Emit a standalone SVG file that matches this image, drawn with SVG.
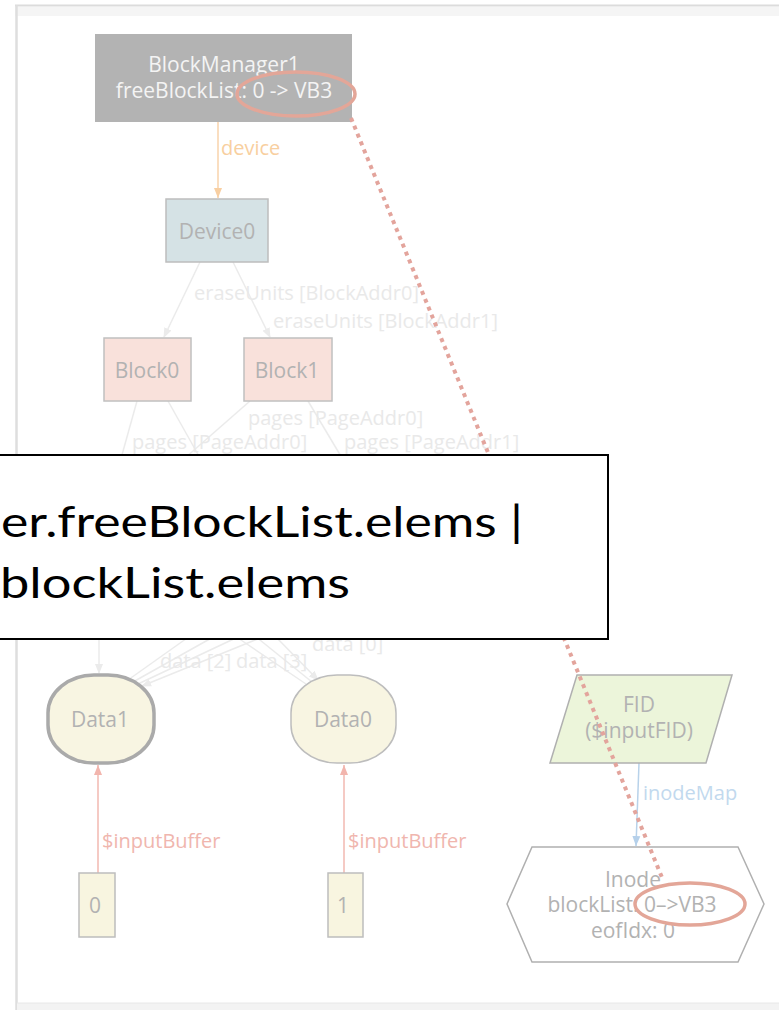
<svg xmlns="http://www.w3.org/2000/svg" width="779" height="1010" viewBox="0 0 779 1010">
<defs>
<style>
.nt{font-family:"Open Sans","DejaVu Sans",sans-serif;font-size:21px;fill:#b2b2b2;text-anchor:middle}
.el{font-family:"Open Sans","DejaVu Sans",sans-serif;font-size:20px;fill:#e9e9e9}
.fe{stroke:#ebebeb;stroke-width:1.5;fill:none}
.hl{fill:none;stroke:#e3a698;stroke-width:3.5}
.big{font-family:"Lato","Open Sans",sans-serif;font-size:42px;fill:#000}
</style>
<marker id="ag" markerWidth="10" markerHeight="10" refX="9" refY="5" orient="auto" markerUnits="userSpaceOnUse"><path d="M0,1 L10,5 L0,9 z" fill="#ebebeb"/></marker>
<marker id="ao" markerWidth="10" markerHeight="12" refX="10" refY="5" orient="auto" markerUnits="userSpaceOnUse"><path d="M0,1 L10,5 L0,9 z" fill="#f8cfa2"/></marker>
<marker id="ap" markerWidth="10" markerHeight="12" refX="10" refY="5" orient="auto" markerUnits="userSpaceOnUse"><path d="M0,1 L10,5 L0,9 z" fill="#f2b5ad"/></marker>
<marker id="ab" markerWidth="10" markerHeight="12" refX="10" refY="5" orient="auto" markerUnits="userSpaceOnUse"><path d="M0,1 L10,5 L0,9 z" fill="#b5d0ea"/></marker>
</defs>
<rect width="779" height="1010" fill="#fff"/>
<g id="frame">
<rect x="15" y="7" width="764" height="9" fill="#f5f5f5"/>
<line x1="15" y1="5.5" x2="779" y2="5.5" stroke="#dcdcdc" stroke-width="2"/>
<line x1="16.5" y1="5" x2="16.5" y2="1010" stroke="#dedede" stroke-width="2.5"/>
<rect x="17" y="1003" width="762" height="7" fill="#f3f3f3"/>
<line x1="17" y1="1003" x2="779" y2="1003" stroke="#e8e8e8" stroke-width="1"/>
</g>
<g id="connectors">
<line x1="218" y1="122" x2="218" y2="198" stroke="#f8d3ab" stroke-width="1.5" marker-end="url(#ao)"/>
<text class="el" x="221" y="155" style="fill:#f8cfa0">device</text>
<line class="fe" x1="200" y1="262" x2="164" y2="337" marker-end="url(#ag)"/>
<line class="fe" x1="233" y1="262" x2="270" y2="337" marker-end="url(#ag)"/>
<text class="el" x="194" y="300">eraseUnits [BlockAddr0]</text>
<text class="el" x="273" y="328">eraseUnits [BlockAddr1]</text>
<line class="fe" x1="137" y1="401" x2="115" y2="480"/>
<line class="fe" x1="168" y1="401" x2="200" y2="458"/>
<line class="fe" x1="250" y1="401" x2="185" y2="458"/>
<line class="fe" x1="308" y1="401" x2="342" y2="458"/>
<text class="el" x="248" y="425">pages [PageAddr0]</text>
<text class="el" x="132" y="449">pages [PageAddr0]</text>
<text class="el" x="344" y="449">pages [PageAddr1]</text>
<line class="fe" x1="99" y1="636" x2="99" y2="673" marker-end="url(#ag)"/>
<line class="fe" x1="190" y1="636" x2="128" y2="680"/>
<line class="fe" x1="215" y1="636" x2="133" y2="682"/>
<line class="fe" x1="240" y1="636" x2="138" y2="684"/>
<line class="fe" x1="265" y1="636" x2="142" y2="686" marker-end="url(#ag)"/>
<line class="fe" x1="235" y1="636" x2="306" y2="684"/>
<line class="fe" x1="255" y1="636" x2="312" y2="682"/>
<line class="fe" x1="275" y1="636" x2="318" y2="680" marker-end="url(#ag)"/>
<text class="el" x="312" y="651">data [0]</text>
<text class="el" x="160" y="668">data [2]</text>
<text class="el" x="236" y="668">data [3]</text>
<line x1="98" y1="873" x2="98" y2="765" stroke="#f2b9b1" stroke-width="1.5" marker-end="url(#ap)"/>
<line x1="344" y1="873" x2="344" y2="765" stroke="#f2b9b1" stroke-width="1.5" marker-end="url(#ap)"/>
<text class="el" x="102" y="848" style="fill:#f0b6ae">$inputBuffer</text>
<text class="el" x="348" y="848" style="fill:#f0b6ae">$inputBuffer</text>
<line x1="639" y1="763" x2="636" y2="846" stroke="#b8d2ea" stroke-width="1.5" marker-end="url(#ab)"/>
<text class="el" x="643" y="800" style="fill:#c2d9ee">inodeMap</text>
</g>
<g id="BlockManager1">
<rect x="95" y="34" width="257" height="88" fill="#b3b3b3"/>
<text class="nt" x="224" y="72" style="fill:#f4f4f4">BlockManager1</text>
<text class="nt" x="224" y="98" style="fill:#f4f4f4">freeBlockList: 0 -&gt; VB3</text>
</g>
<g id="Device0">
<rect x="166" y="199" width="102" height="63" fill="#d5e2e5" stroke="#bdbdbd" stroke-width="1.5"/>
<text class="nt" x="217" y="239">Device0</text>
</g>
<g id="Block0">
<rect x="104" y="338" width="87" height="63" fill="#f9e1db" stroke="#c0c0c0" stroke-width="1.5"/>
<text class="nt" x="147" y="378">Block0</text>
</g>
<g id="Block1">
<rect x="244" y="338" width="88" height="63" fill="#f9e1db" stroke="#c0c0c0" stroke-width="1.5"/>
<text class="nt" x="287" y="378">Block1</text>
</g>
<g id="Data1">
<rect x="48" y="675" width="106" height="88" rx="46" ry="38" fill="#f8f5e2" stroke="#aaaaaa" stroke-width="3.5"/>
<text class="nt" x="100" y="727">Data1</text>
</g>
<g id="Data0">
<rect x="291" y="675" width="105" height="88" rx="46" ry="38" fill="#f8f5e2" stroke="#bdbdbd" stroke-width="1.5"/>
<text class="nt" x="343" y="727">Data0</text>
</g>
<g id="Buf0">
<rect x="79" y="873" width="36" height="64" fill="#f8f5e0" stroke="#bdbdbd" stroke-width="1.5"/>
<text class="nt" x="95" y="913">0</text>
</g>
<g id="Buf1">
<rect x="328" y="873" width="35" height="64" fill="#f8f5e0" stroke="#bdbdbd" stroke-width="1.5"/>
<text class="nt" x="343" y="913">1</text>
</g>
<g id="FID">
<polygon points="577,675 732,675 706,763 550,763" fill="#ecf5da" stroke="#b0b0b0" stroke-width="1.5"/>
<text class="nt" x="639" y="712">FID</text>
<text class="nt" x="639" y="738">($inputFID)</text>
</g>
<g id="Inode">
<polygon points="532,847 738,847 764,904 738,962 532,962 507,904" fill="#fff" stroke="#b0b0b0" stroke-width="1.5"/>
<text class="nt" x="633" y="887">Inode</text>
<text class="nt" x="632" y="912">blockList: 0–&gt;VB3</text>
<text class="nt" x="633" y="938">eofIdx: 0</text>
</g>
<g id="highlight">
<ellipse class="hl" cx="296" cy="94" rx="59" ry="22"/>
<ellipse class="hl" cx="690" cy="904" rx="55" ry="21"/>
<line x1="351" y1="118" x2="663" y2="880" stroke="#e3a49c" stroke-width="4" stroke-dasharray="4 4.5"/>
</g>
<g id="callout">
<rect x="-5" y="455" width="613" height="184" fill="#fff" stroke="#000" stroke-width="2"/>
<text class="big" x="1" y="537" textLength="522" lengthAdjust="spacingAndGlyphs">er.freeBlockList.elems |</text>
<text class="big" x="0" y="598" textLength="350" lengthAdjust="spacingAndGlyphs">blockList.elems</text>
</g>
</svg>
